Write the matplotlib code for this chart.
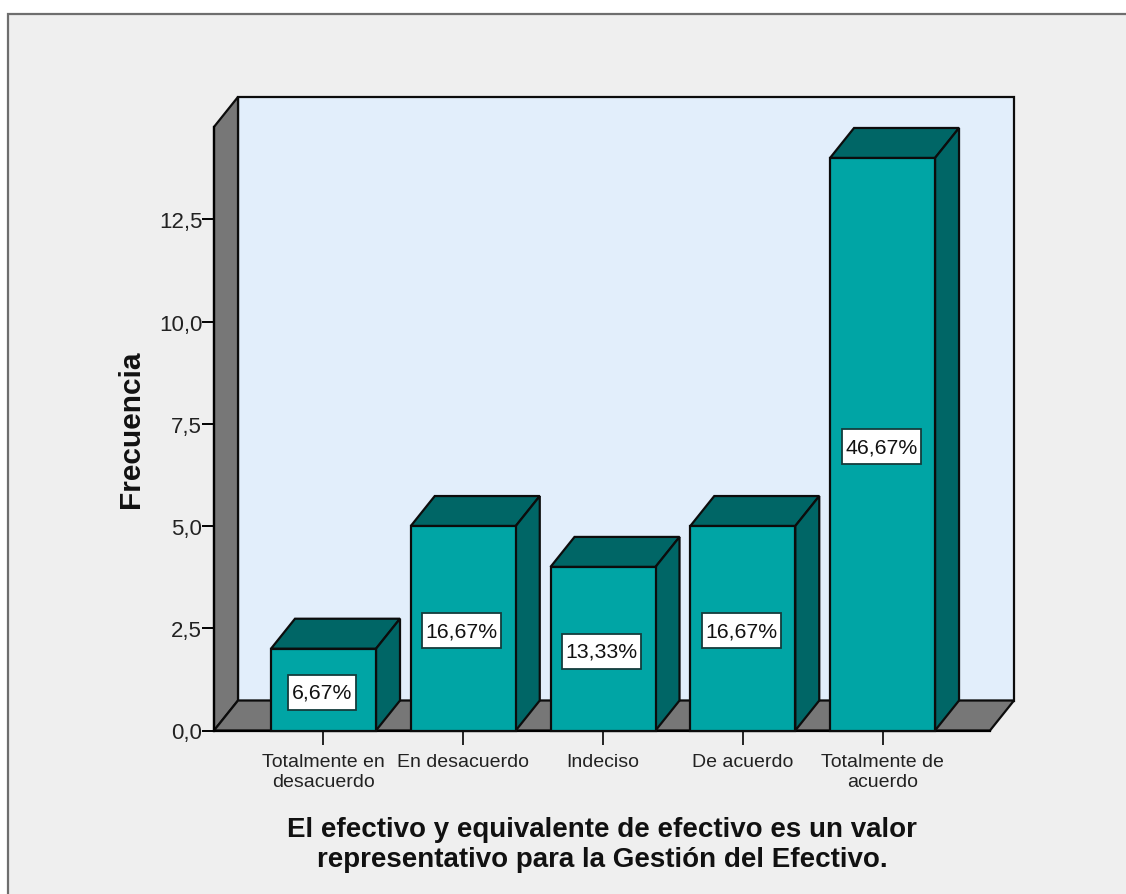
import matplotlib
matplotlib.use('Agg')
import matplotlib.pyplot as plt
from matplotlib.patches import Polygon, Rectangle
from matplotlib.path import Path

# Frequency of each answer
categories = ['Totalmente en\ndesacuerdo', 'En desacuerdo', 'Indeciso', 'De acuerdo', 'Totalmente de\nacuerdo']
frecuencia = [2, 5, 4, 5, 14]
porcentaje = ['6,67%', '16,67%', '13,33%', '16,67%', '46,67%']
y_ticks = [0, 2.5, 5, 7.5, 10, 12.5]
y_tick_labels = ['0,0', '2,5', '5,0', '7,5', '10,0', '12,5']
y_top = 14.76

plt.rcParams['font.family'] = ['Liberation Sans', 'DejaVu Sans']

W, H = 1126, 895
fig = plt.figure(figsize=(W / 100, H / 100), dpi=100, facecolor='white')

# Grey panel, its right and bottom edges run off the image
fig.add_artist(Rectangle((8 / W, -0.01), 1.02, (H - 15) / H + 0.01, transform=fig.transFigure,
                         facecolor='#efefef', edgecolor='#6e6e6e', linewidth=1.6, zorder=-1))

ax = fig.add_axes([214 / W, (H - 731.5) / H, 776 / W, 603.6 / H])
ax.set_xlim(-0.7835, 4.769)
ax.set_ylim(0, y_top)
ax.patch.set_visible(False)
for s in ['top', 'right']:
    ax.spines[s].set_visible(False)
ax.spines['left'].set_linewidth(1.6)
ax.spines['bottom'].set_linewidth(1.6)
ax.spines['left'].set_zorder(3)
ax.spines['bottom'].set_zorder(3)

# Depth of the 3D effect in data units
dx = 24 / 139.75
dy = 30 / 40.9
bar_w = 105 / 139.75
x0, x1 = ax.get_xlim()
line = '#0c0c0c'
lw = 1.6


def label_box(x, y, w, h, mutation_size):
    # plain box, taller than the text it holds
    px, py = 3.5, 8
    return Path([(x - px, y - py), (x + w + px, y - py), (x + w + px, y + h + py),
                 (x - px, y + h + py), (x - px, y - py)], closed=True)


# Back wall, left wall and floor
ax.add_patch(Polygon([(x0 + dx, dy), (x1 + dx, dy), (x1 + dx, y_top + dy), (x0 + dx, y_top + dy)],
                     closed=True, fc='#e2eefb', ec=line, lw=lw, clip_on=False, zorder=1))
ax.add_patch(Polygon([(x0, 0), (x0, y_top), (x0 + dx, y_top + dy), (x0 + dx, dy)],
                     closed=True, fc='#777777', ec=line, lw=lw, clip_on=False, zorder=2))
ax.add_patch(Polygon([(x0, 0), (x1, 0), (x1 + dx, dy), (x0 + dx, dy)],
                     closed=True, fc='#777777', ec=line, lw=lw, clip_on=False, zorder=2))

for i, v in enumerate(frecuencia):
    l, r = i - bar_w / 2, i + bar_w / 2
    # top and side faces first, then the front
    ax.add_patch(Polygon([(l, v), (r, v), (r + dx, v + dy), (l + dx, v + dy)],
                         closed=True, fc='#006666', ec=line, lw=lw, clip_on=False, zorder=4))
    ax.add_patch(Polygon([(r, 0), (r + dx, dy), (r + dx, v + dy), (r, v)],
                         closed=True, fc='#006666', ec=line, lw=lw, clip_on=False, zorder=4))
    ax.add_patch(Rectangle((l, 0), bar_w, v, fc='#00a5a5', ec=line, lw=lw, clip_on=False, zorder=5))
    ax.annotate(porcentaje[i], (i, v / 2), xytext=(-1, -1.8), textcoords='offset points',
                ha='center', va='center', fontsize=15.3, color='#111111', zorder=6,
                bbox=dict(boxstyle=label_box, fc='white', ec='#143c3c', lw=1.3))

ax.set_xticks(range(len(categories)))
ax.set_xticklabels(categories, fontsize=14, color='#222222', linespacing=1.27)
ax.set_yticks(y_ticks)
ax.set_yticklabels(y_tick_labels, fontsize=16, color='#222222')
ax.tick_params(axis='x', length=10, width=1.2, pad=6)
ax.tick_params(axis='y', length=8.5, width=1.4, pad=0)

fig.text(131 / W, 1 - 429 / H, 'Frecuencia', rotation=90, ha='center', va='center',
         fontsize=21.5, fontweight='bold', color='#111111')
fig.text(602 / W, 1 - 845 / H, 'El efectivo y equivalente de efectivo es un valor\nrepresentativo para la Gestión del Efectivo.',
         ha='center', va='center', fontsize=20, fontweight='bold', color='#111111', linespacing=1.21)

fig.savefig('out.png', dpi=100)
